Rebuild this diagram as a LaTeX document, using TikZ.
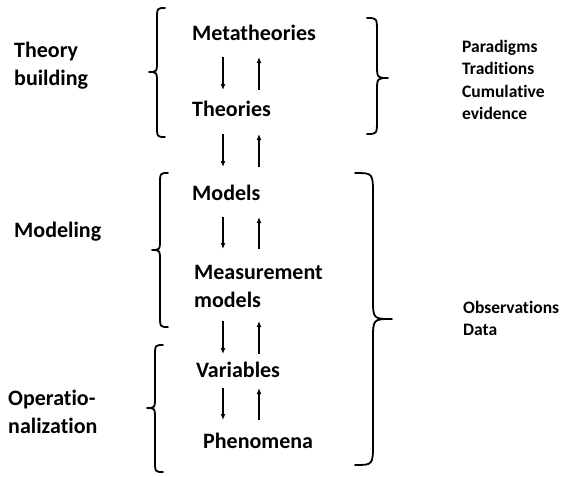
\documentclass[tikz,border=0pt]{standalone}
\usepackage{fontspec}
\setmainfont{Carlito}[Ligatures=NoCommon]
\usetikzlibrary{arrows.meta,calc}
\begin{document}
\begin{tikzpicture}[x=1pt,y=-1pt,
  lbl/.style={anchor=base west, inner sep=0pt, font=\bfseries\fontsize{22}{28}\selectfont, align=left},
  mlbl/.style={anchor=north west, inner sep=0pt, font=\bfseries\fontsize{22}{28}\selectfont, align=left},
  side/.style={anchor=north west, inner sep=0pt, font=\bfseries\fontsize{17.5}{22.5}\selectfont, align=left},
  arr/.style={line width=1.4pt, -{Latex[length=6pt,width=5pt]}},
  brace/.style={line width=1.8pt, line cap=round, line join=round}]
\useasboundingbox (0,0) rectangle (566,477);
% column coordinates for arrows
\coordinate (dn) at (223,0);
\coordinate (up) at (259,0);
% main nodes
\node[lbl] (meta) at (192,40) {Metatheories};
\node[lbl] (theo) at (192,116) {Theories};
\node[lbl] (mod) at (192,200) {Models};
\node[mlbl] (meas) at (194,265) {Measurement\\models};
\node[lbl] (var) at (196,377) {Variables};
\node[lbl] (phen) at (203,448) {Phenomena};
% left labels
\node[mlbl] (tb) at (14,42) {Theory\\building};
\node[lbl] (mdl) at (14,237) {Modeling};
\node[mlbl] (op) at (8,390) {Operatio-\\nalization};
% right labels
\node[side] (par) at (462,40) {Paradigms\\Traditions\\Cumulative\\evidence};
\node[side] (obs) at (463,301) {Observations\\Data};
% arrows
\draw[arr] ($(dn |- meta.base)+(0,17)$) -- ($(dn |- theo.base)+(0,-26)$);
\draw[arr] ($(up |- theo.base)+(0,-26)$) -- ($(up |- meta.base)+(0,17)$);
\draw[arr] ($(dn |- theo.base)+(0,18)$) -- ($(dn |- mod.base)+(0,-33)$);
\draw[arr] ($(up |- mod.base)+(0,-33)$) -- ($(up |- theo.base)+(0,18)$);
\draw[arr] ($(dn |- mod.base)+(0,17)$) -- ($(dn |- meas.north)+(0,-16)$);
\draw[arr] ($(up |- meas.north)+(0,-16)$) -- ($(up |- mod.base)+(0,17)$);
\draw[arr] ($(dn |- meas.north)+(0,56)$) -- ($(dn |- var.base)+(0,-23)$);
\draw[arr] ($(up |- var.base)+(0,-23)$) -- ($(up |- meas.north)+(0,56)$);
\draw[arr] ($(dn |- var.base)+(0,11)$) -- ($(dn |- phen.base)+(0,-28)$);
\draw[arr] ($(up |- phen.base)+(0,-28)$) -- ($(up |- var.base)+(0,11)$);
% left braces
\draw[brace] (165,8) .. controls (157,8) .. (157,20) -- (157,60) .. controls (157,72) .. (149,72) .. controls (157,72) .. (157,84) -- (157,125) .. controls (157,137) .. (165,137);
\draw[brace] (168,173) .. controls (160,173) .. (160,185) -- (160,238) .. controls (160,250) .. (152,250) .. controls (160,250) .. (160,262) -- (160,315) .. controls (160,327) .. (168,327);
\draw[brace] (163,345) .. controls (155,345) .. (155,357) -- (155,396) .. controls (155,408) .. (147,408) .. controls (155,408) .. (155,420) -- (155,460) .. controls (155,472) .. (163,472);
% right braces
\draw[brace] (367,18) .. controls (377,18) .. (377,32) -- (377,64) .. controls (377,78) .. (388,78) .. controls (377,78) .. (377,92) -- (377,120) .. controls (377,134) .. (367,134);
\draw[brace] (355,173) .. controls (373,173) .. (373,195) -- (373,298) .. controls (373,319) .. (392,319) .. controls (373,319) .. (373,340) -- (373,443) .. controls (373,465) .. (355,465);
\end{tikzpicture}
\end{document}
